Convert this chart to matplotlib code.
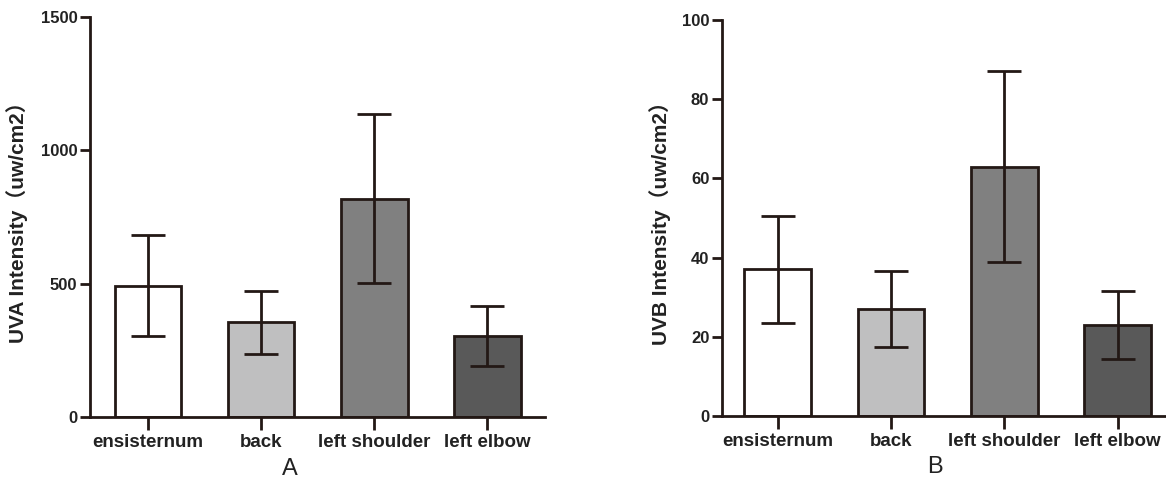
import numpy as np
import matplotlib
matplotlib.use("Agg")
import matplotlib.pyplot as plt

plt.rcParams['font.family'] = ['Liberation Sans', 'Noto Sans CJK SC', 'DejaVu Sans']

sites = ['ensisternum', 'back', 'left shoulder', 'left elbow']
uva_mean = [493, 355, 818, 304]
uva_sd = [188, 118, 317, 113]
uvb_mean = [37, 27, 63, 23]
uvb_sd = [13.5, 9.5, 24, 8.5]
bar_colors = ['#ffffff', '#bfbfc0', '#808080', '#595959']
ink = '#231815'


def draw_panel(ax, means, sds, ymax, yticks, ylabel, letter, xlim, label_x, letter_x):
    x = np.arange(len(sites))
    ax.bar(x, means, width=0.59, color=bar_colors, edgecolor=ink, linewidth=2, zorder=2)
    ax.errorbar(x, means, yerr=sds, fmt='none', ecolor=ink, elinewidth=2,
                capsize=12, capthick=2, zorder=3)
    ax.set_xlim(*xlim)
    ax.set_ylim(0, ymax)
    ax.set_yticks(yticks)
    ax.set_xticks(x)
    ax.set_xticklabels(sites, fontsize=13.5, fontweight='bold', color='#222222')
    for lab in ax.get_yticklabels():
        lab.set_fontsize(12)
        lab.set_fontweight('bold')
        lab.set_color('#222222')
    ax.spines['top'].set_visible(False)
    ax.spines['right'].set_visible(False)
    for s in ('left', 'bottom'):
        ax.spines[s].set_linewidth(2)
        ax.spines[s].set_color(ink)
    ax.tick_params(axis='y', length=7, width=2, color=ink, pad=2)
    ax.tick_params(axis='x', length=9, width=2, color=ink, pad=3)
    ax.set_ylabel(ylabel, fontsize=15, fontweight='bold', color='#222222')
    ax.yaxis.set_label_coords(label_x, 0.5)
    ax.text(letter_x, -0.13, letter, transform=ax.transAxes, fontsize=17,
            ha='center', va='center', color='#222222')


fig = plt.figure(figsize=(11.66, 4.78), dpi=100)
ax1 = fig.add_axes([0.0772, 0.1276, 0.3902, 0.8368])
ax2 = fig.add_axes([0.619, 0.1297, 0.381, 0.8285])

draw_panel(ax1, uva_mean, uva_sd, 1500, [0, 500, 1000, 1500],
           'UVA Intensity（uw/cm2）', 'A', (-0.513, 3.51), -0.136, 0.44)
draw_panel(ax2, uvb_mean, uvb_sd, 100, [0, 20, 40, 60, 80, 100],
           'UVB Intensity（uw/cm2）', 'B', (-0.494, 3.427), -0.114, 0.48)

fig.savefig('out.png', dpi=100)
